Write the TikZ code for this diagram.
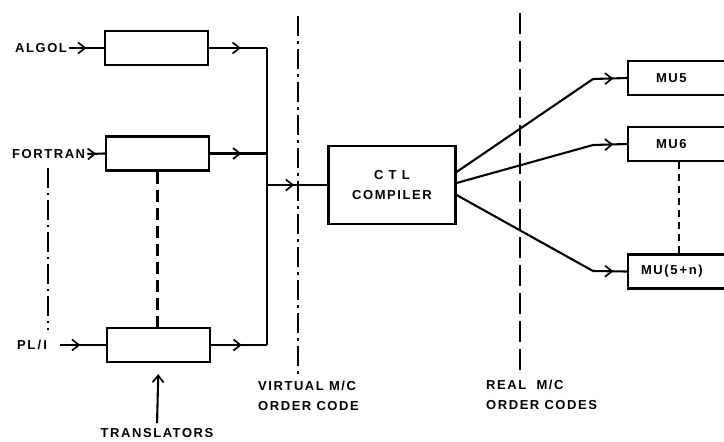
\documentclass[tikz,border=0pt]{standalone}
\usepackage{fontspec}
\setmainfont{Liberation Sans}
\newfontfamily\stencil[LetterSpace=12]{Liberation Sans Bold}
\usepackage{tikz}
\usetikzlibrary{positioning, arrows.meta, calc, decorations.markings}

\tikzset{
  link/.style={line width=2.1pt},
  barb/.style={-{Straight Barb[length=7pt,width=11pt,line width=1.7pt]}},
  midarr/.style={postaction={decorate}, decoration={markings,
      mark=at position #1 with {\arrow{Straight Barb[length=7pt,width=11pt,line width=1.7pt]}}}},
  midarr/.default=0.55,
}

\begin{document}
\begin{tikzpicture}[x=1pt, y=-1pt, font=\stencil\fontsize{13}{20}\selectfont,
    trbox/.style={draw, line width=2.1pt, minimum width=103pt, minimum height=34pt, inner sep=0pt},
    ctlbox/.style={draw, line width=2.1pt, minimum width=127pt, minimum height=78pt, align=center},
    mubox/.style={draw, line width=2.1pt, anchor=west, minimum height=34pt, text width=80pt, align=left},
    lbl/.style={inner sep=2pt}]
    \useasboundingbox (0,0) rectangle (724,442);
    \clip (0,0) rectangle (724,442);

    % translators
    \node[trbox] (t1) at (156.5,48)    {};
    \node[trbox] (t2) at (157.5,153.5) {};
    \node[trbox] (t3) at (158.5,345)   {};
    \node[lbl, anchor=west] (algol)   at (13,48)  {ALGOL};
    \node[lbl, anchor=west] (fortran) at (10,154) {FORTRAN};
    \node[lbl, anchor=west] (pli)     at (15,345) {PL\,/\,I};
    \draw[link, midarr=0.5] (algol.east) -- (t1.west);
    \draw[link, midarr=0.5] (fortran.east) -- (t2.west);
    \draw[link, midarr=0.55, shorten <=11pt] (pli.east) -- (t3.west);
    \draw[link, dash pattern=on 12pt off 6pt] (t2.south) -- (t2.south |- t3.north);
    \draw[link, dash pattern=on 20pt off 5pt on 2pt off 5pt] (48,168) -- (48,330);

    \node[lbl] (trans) at (157,433) {TRANSLATORS};
    \draw[link, barb, shorten <=3pt, shorten >=11pt] (trans.north) -- (t3.south);

    % bus into the compiler
    \coordinate (j1) at (267,48);
    \coordinate (j2) at (267,153.5);
    \coordinate (j3) at (267,345);
    \coordinate (jc) at (267,185);
    \draw[link, midarr] (t1.east) -- (j1);
    \draw[link, midarr] (t2.east) -- (j2);
    \draw[link, midarr] (t3.east) -- (j3);
    \draw[link] (j1) -- (j3);

    \node[ctlbox] (ctl) at (392,185) {{\addfontfeature{LetterSpace=40}CTL}\\COMPILER};
    \draw[link, midarr=0.45] (jc) -- (ctl.west |- jc);

    % order code boundaries
    \draw[link, dash pattern=on 20pt off 5pt on 3pt off 5pt] (298,16) -- (298,375);
    \draw[link, dash pattern=on 21pt off 7pt] (520,13) -- (520,375);
    \node[lbl, anchor=north west, align=left] (virt) at (256,379) {VIRTUAL M/C\\ORDER CODE};
    \node[lbl, anchor=north west, align=left] (real) at (484,378) {REAL\ \ M/C\\ORDER CODES};

    % machines
    \node[mubox, inner xsep=28pt] (mu5) at (627,78)    {MU5};
    \node[mubox, inner xsep=28pt] (mu6) at (627,144)   {MU6};
    \node[mubox, inner xsep=13pt] (mun) at (627,271.5) {MU(5\,+n)};
    \coordinate (b5) at (593,79);
    \coordinate (b6) at (593,145);
    \coordinate (bn) at (593,271);
    \draw[link] ($(ctl.east)+(0,-13)$) -- (b5);
    \draw[link] ($(ctl.east)+(0,-2)$) -- (b6);
    \draw[link] ($(ctl.east)+(0,10)$) -- (bn);
    \draw[link, midarr=0.6] (b5) -- (mu5.west);
    \draw[link, midarr=0.6] (b6) -- (mu6.west);
    \draw[link, midarr=0.6] (bn) -- (mun.west);
    \draw[link, dash pattern=on 7pt off 5pt] ($(mu6.south west)+(52,0)$) -- ($(mun.north west)+(52,0)$);
  \end{tikzpicture}
\end{document}
